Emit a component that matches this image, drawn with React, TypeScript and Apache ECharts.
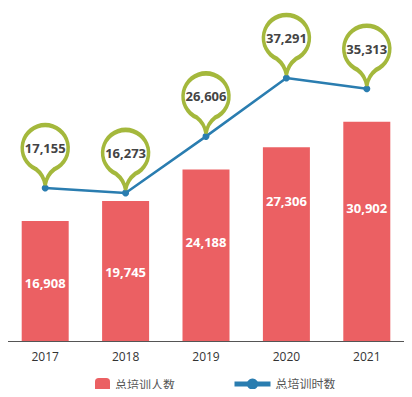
import React, { useEffect, useRef } from "react";
import * as echarts from "echarts";

const years = ["2017", "2018", "2019", "2020", "2021"];
const trainees = [16908, 19745, 24188, 27306, 30902];
const trainingHours = [17155, 16273, 26606, 37291, 35313];
const barLabelDy = [2, 1.5, -13.5, -43.5, -23.5];

const BAR_NAME = "总培训人数";
const LINE_NAME = "总培训时数";

const RED = "#EB6063";
const BLUE = "#2A7DB0";
const OLIVE = "#A4B83C";
const FONT = "'Open Sans', 'Noto Sans CJK SC', sans-serif";

const fmt = (v: number) => v.toLocaleString("en-US");

// Build a balloon pin outline from cubic segments only (circle + tapered tail)
function buildPin(r: number, tipY: number, departDeg: number): string {
  const cx = r;
  const cy = r;
  const rad = (d: number) => (d * Math.PI) / 180;
  const P = (a: number) => [cx + r * Math.cos(rad(a)), cy + r * Math.sin(rad(a))];
  const start = 90 + departDeg;
  const end = 450 - departDeg;
  const nSeg = 16;
  const step = (end - start) / nSeg;
  const k = (4 / 3) * Math.tan(rad(step) / 4) * r;
  const f = (n: number) => n.toFixed(2);
  const p0 = P(start);
  let d = `M${f(p0[0])},${f(p0[1])}`;
  for (let i = 0; i < nSeg; i++) {
    const a1 = start + i * step;
    const a2 = a1 + step;
    const q1 = P(a1);
    const q2 = P(a2);
    const c1 = [q1[0] - k * Math.sin(rad(a1)), q1[1] + k * Math.cos(rad(a1))];
    const c2 = [q2[0] + k * Math.sin(rad(a2)), q2[1] - k * Math.cos(rad(a2))];
    d += ` C${f(c1[0])},${f(c1[1])} ${f(c2[0])},${f(c2[1])} ${f(q2[0])},${f(q2[1])}`;
  }
  const pe = P(end);
  d += ` Q${f(cx + 1.5)},${f(pe[1] + 6)} ${f(cx)},${f(tipY)}`;
  d += ` Q${f(cx - 1.5)},${f(pe[1] + 6)} ${f(p0[0])},${f(p0[1])} Z`;
  return "path://" + d;
}

const pinPath = buildPin(23, 60, 24);

export default function App() {
  const ref = useRef<HTMLDivElement>(null);
  useEffect(() => {
    if (!ref.current) return;
    const chart = echarts.init(ref.current, undefined, { renderer: "svg" });
    chart.setOption({
      animation: false,
      textStyle: { fontFamily: FONT },
      grid: { left: 5, right: 5, top: 41, bottom: 56, containLabel: false },
      legend: [
        {
          data: [BAR_NAME],
          left: 90,
          top: 373,
          itemWidth: 15,
          itemHeight: 15,
          textStyle: { color: "#555", fontSize: 12, fontFamily: FONT },
        },
        {
          data: [LINE_NAME],
          left: 227,
          top: 373,
          itemWidth: 36,
          itemHeight: 14,
          textStyle: { color: "#555", fontSize: 12, fontFamily: FONT },
          lineStyle: { width: 5 },
        },
      ],
      xAxis: {
        type: "category",
        data: years,
        axisLine: { lineStyle: { color: "#555", width: 1 } },
        axisTick: { show: false },
        axisLabel: { color: "#333", fontSize: 12, margin: 9, fontFamily: FONT },
      },
      yAxis: [
        { type: "value", min: 0, max: 42300, show: false, splitLine: { show: false } },
        { type: "value", min: -10800, max: 44040, show: false, splitLine: { show: false } },
      ],
      series: [
        {
          name: BAR_NAME,
          type: "bar",
          yAxisIndex: 0,
          barWidth: 47,
          itemStyle: { color: RED },
          data: trainees.map((v, i) => ({
            value: v,
            label: { offset: [0, barLabelDy[i]] },
          })),
          label: {
            show: true,
            position: "inside",
            color: "#fff",
            fontWeight: "bold",
            fontSize: 13,
            fontFamily: FONT,
            formatter: (p: any) => fmt(p.value),
          },
        },
        {
          name: LINE_NAME,
          type: "line",
          yAxisIndex: 1,
          data: trainingHours,
          symbol: "circle",
          symbolSize: 7,
          itemStyle: { color: BLUE },
          lineStyle: { color: BLUE, width: 2.5 },
          z: 3,
          markPoint: {
            symbol: pinPath,
            symbolSize: [46, 60],
            symbolOffset: [0, -33],
            symbolKeepAspect: false,
            itemStyle: { color: "#fff", borderColor: OLIVE, borderWidth: 4 },
            label: {
              show: true,
              position: "inside",
              offset: [0, -7],
              color: "#444",
              fontWeight: "bold",
              fontSize: 13,
              fontFamily: FONT,
              formatter: (p: any) => fmt(p.value),
            },
            data: trainingHours.map((v, i) => ({ coord: [years[i], v], value: v })),
          },
        },
      ],
    });
    return () => chart.dispose();
  }, []);
  return <div ref={ref} style={{ width: 412, height: 397, margin: -8 }} />;
}
